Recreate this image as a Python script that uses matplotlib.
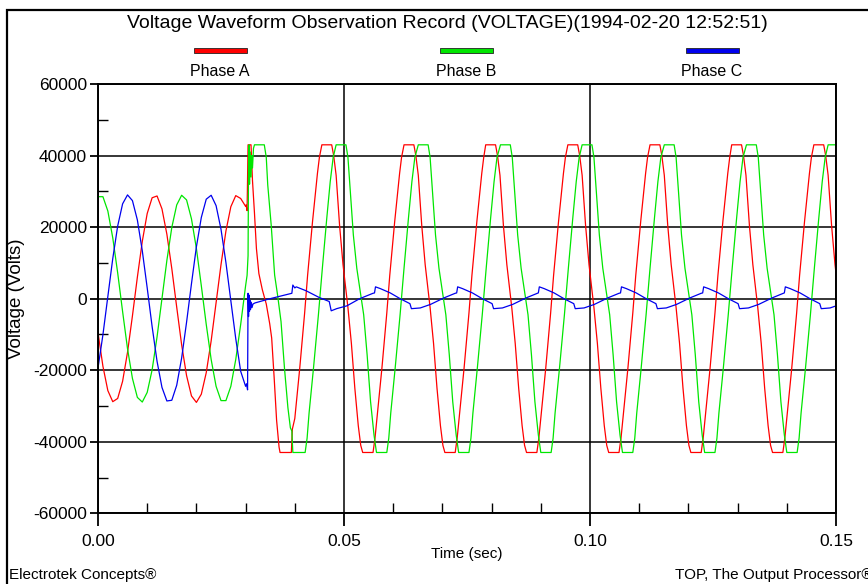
import numpy as np
import matplotlib
matplotlib.use('Agg')
import matplotlib.pyplot as plt
from matplotlib.patches import Rectangle
from matplotlib.ticker import MultipleLocator

plt.rcParams['font.family'] = ['Liberation Sans', 'DejaVu Sans']
plt.rcParams['axes.unicode_minus'] = False

# times in ms, voltages in kV

# Phase A (red)
phase_a_t = (list(range(0, 30)) +
             [30.0, 30.1, 30.3, 30.5, 31.1, 31.4, 31.8, 32.2, 32.7, 33.4, 34.2, 34.9, 35.3,
              35.8, 36.3, 36.8, 37.0, 39.3, 39.5, 40.0, 41.0, 42.0, 42.6, 43.6, 44.6, 45.0] +
             [45.5, 47.5, 47.9, 48.4, 49.1, 49.8, 50.8, 51.5, 52.2, 52.9, 53.4, 53.8, 55.9, 56.3, 56.7, 57.7, 58.7, 59.3, 60.3, 61.3, 61.7] +
             [62.2, 64.2, 64.6, 65.1, 65.8, 66.5, 67.5, 68.2, 68.9, 69.6, 70.1, 70.5, 72.6, 73.0, 73.4, 74.4, 75.4, 76.0, 77.0, 78.0, 78.4] +
             [78.8, 80.8, 81.2, 81.7, 82.4, 83.1, 84.1, 84.8, 85.5, 86.2, 86.7, 87.1, 89.2, 89.6, 90.0, 91.0, 92.0, 92.6, 93.6, 94.6, 95.0] +
             [95.5, 97.5, 97.9, 98.4, 99.1, 99.8, 100.8, 101.5, 102.2, 102.9, 103.4, 103.8, 105.9, 106.3, 106.7, 107.7, 108.7, 109.3, 110.3, 111.3, 111.7] +
             [112.2, 114.2, 114.6, 115.1, 115.8, 116.5, 117.5, 118.2, 118.9, 119.6, 120.1, 120.5, 122.6, 123.0, 123.4, 124.4, 125.4, 126.0, 127.0, 128.0, 128.4] +
             [128.8, 130.8, 131.2, 131.7, 132.4, 133.1, 134.1, 134.8, 135.5, 136.2, 136.7, 137.1, 139.2, 139.6, 140.0, 141.0, 142.0, 142.6, 143.6, 144.6, 145.0] +
             [145.5, 147.5, 147.9, 148.4, 149.1, 149.8, 150.8])
a_cycle = [43.0, 43.0, 40.0, 34.5, 20.5, 9.5, -2.5, -12.5, -25.0, -35.5, -41.0,
           -43.0, -43.0, -39.0, -33.5, -19.5, -4.0, 6.5, 21.5, 35.0, 39.5]
phase_a_v = ([-9.5, -18.9, -25.7, -28.8, -27.9, -23.1, -15.0, -4.8, 6.0, 16.0, 23.8, 28.2, 28.7, 25.1, 18.0,
              8.4, -2.4, -12.9, -21.5, -27.2, -29.0, -26.7, -20.7, -11.8, -1.2, 9.5, 18.9, 25.7, 28.8, 28.0] +
             [25.8, 26.2, 24.6, 43.0, 43.0, 33.0, 24.0, 14.0, 7.0, 2.5, -1.5, -7.0, -11.0,
              -22.0, -34.0, -41.5, -43.0, -43.0, -36.5, -33.5, -19.5, -4.0, 6.5, 21.5, 35.0, 39.5] +
             a_cycle + a_cycle + a_cycle + a_cycle + a_cycle + a_cycle +
             [43.0, 43.0, 40.0, 34.5, 20.5, 9.5, -2.5])

# Phase B (green)
phase_b_t = (list(range(0, 31)) +
             [30.3, 30.5, 30.6, 30.7, 30.8, 30.95, 31.1, 31.25, 31.4, 31.6, 31.8, 33.8, 34.2, 34.5, 35.2, 35.9,
              36.5, 37.2, 37.9, 38.6, 39.1, 39.4, 39.6, 42.1, 42.5, 42.9, 43.8, 44.8, 45.6, 46.5, 47.2, 47.8] +
             [48.4, 50.4, 50.8, 51.25, 51.9, 52.6, 53.3, 54.0, 54.7, 55.4, 56.1, 56.6, 58.7, 59.1, 59.5, 60.4, 61.4, 62.2, 63.1, 63.8, 64.4] +
             [65.1, 67.1, 67.5, 67.95, 68.6, 69.3, 70.0, 70.7, 71.4, 72.1, 72.8, 73.3, 75.4, 75.8, 76.2, 77.1, 78.1, 78.9, 79.8, 80.5, 81.1] +
             [81.8, 83.8, 84.2, 84.65, 85.3, 86.0, 86.7, 87.4, 88.1, 88.8, 89.5, 90.0, 92.1, 92.5, 92.9, 93.8, 94.8, 95.6, 96.5, 97.2, 97.8] +
             [98.4, 100.4, 100.8, 101.25, 101.9, 102.6, 103.3, 104.0, 104.7, 105.4, 106.1, 106.6, 108.7, 109.1, 109.5, 110.4, 111.4, 112.2, 113.1, 113.8, 114.4] +
             [115.1, 117.1, 117.5, 117.95, 118.6, 119.3, 120.0, 120.7, 121.4, 122.1, 122.8, 123.3, 125.4, 125.8, 126.2, 127.1, 128.1, 128.9, 129.8, 130.5, 131.1] +
             [131.8, 133.8, 134.2, 134.65, 135.3, 136.0, 136.7, 137.4, 138.1, 138.8, 139.5, 140.0, 142.1, 142.5, 142.9, 143.8, 144.8, 145.6, 146.5, 147.2, 147.8] +
             [148.4, 150.4])
b_cycle = [43.0, 43.0, 39.5, 30.8, 17.8, 8.5, 2.0, -4.5, -15.7, -28.8, -38.1,
           -43.0, -43.0, -39.0, -32.0, -19.4, -4.5, 8.5, 22.5, 32.7, 39.5]
phase_b_v = ([28.5, 28.5, 24.5, 17.0, 7.2, -3.6, -14.0, -22.3, -27.6, -28.9, -26.2, -19.9, -10.7, 0.0, 10.7,
              19.9, 26.2, 28.9, 27.6, 22.3, 14.0, 3.6, -7.2, -17.0, -24.5, -28.5, -28.5, -24.5, -17.0, -7.2, 3.6] +
             [6.5, 12.0, 38.0, 43.0, 32.0, 41.0, 34.0, 40.0, 36.5, 42.0, 43.0, 43.0, 39.5, 31.8, 20.6, 6.6,
              1.0, -6.4, -19.4, -30.5, -36.1, -37.0, -43.0, -43.0, -39.0, -32.0, -19.4, -4.5, 8.5, 22.5, 32.7, 39.5] +
             b_cycle + b_cycle + b_cycle + b_cycle + b_cycle + b_cycle +
             [43.0, 43.0])

# Phase C (blue)
phase_c_t = (list(range(0, 30)) +
             [30.0, 30.2, 30.4, 30.5, 30.6, 30.7, 30.8, 30.9, 31.0, 31.15, 31.3, 31.5, 31.9,
              35.0, 39.4, 39.6, 40.0, 40.3, 42.3, 45.0, 47.0, 47.4, 48.5, 50.6, 53.2, 55.9] +
             [56.2, 56.4, 57.4, 59.4, 61.4, 63.4, 63.7, 65.5, 67.6, 70.3, 72.6] +
             [72.9, 73.1, 74.1, 76.1, 78.1, 80.1, 80.4, 82.2, 84.3, 87.0, 89.3] +
             [89.5, 89.7, 90.7, 92.7, 94.7, 96.7, 97.0, 98.8, 100.9, 103.6, 105.9] +
             [106.2, 106.4, 107.4, 109.4, 111.4, 113.4, 113.7, 115.5, 117.6, 120.3, 122.6] +
             [122.9, 123.1, 124.1, 126.1, 128.1, 130.1, 130.4, 132.2, 134.3, 137.0, 139.3] +
             [139.5, 139.7, 140.7, 142.7, 144.7, 146.7, 147.0, 148.8, 150.9])
c_cycle = [1.6, 3.3, 2.8, 1.6, 0.0, -1.4, -2.8, -2.6, -1.6, 0.2, 1.5]
phase_c_v = ([-19.4, -10.1, 0.6, 11.2, 20.3, 26.5, 29.0, 27.4, 22.0, 13.4, 3.0, -7.8, -17.5, -24.8, -28.6,
              -28.4, -24.2, -16.6, -6.6, 4.2, 14.5, 22.7, 27.8, 28.9, 26.0, 19.4, 10.1, -0.6, -11.2, -20.3] +
             [-24.5, -23.8, -25.5, 1.5, -5.0, 1.0, -3.5, -0.5, -3.0, -1.0, -2.5, -1.5, -1.2,
              0.0, 1.5, 3.8, 3.0, 3.3, 2.2, 0.3, -0.8, -3.4, -2.8, -2.0, 0.0, 1.5] +
             c_cycle + c_cycle + c_cycle + c_cycle + c_cycle +
             [1.6, 3.3, 2.8, 1.6, 0.0, -1.4, -2.8, -2.6, -1.6])

series = [("Phase A", phase_a_t, phase_a_v, "#ff0000"),
          ("Phase B", phase_b_t, phase_b_v, "#00e600"),
          ("Phase C", phase_c_t, phase_c_v, "#0000ee")]

W, H = 868, 584
fig = plt.figure(figsize=(W / 100, H / 100), dpi=100)
ax = fig.add_axes([98 / W, 1 - 513.3 / H, (836 - 98) / W, (513.3 - 84) / H])

for name, t, v, col in series:
    ax.plot(np.array(t) / 1000.0, np.array(v) * 1000.0, color=col, lw=0.9)

ax.set_xlim(0, 0.15)
ax.set_ylim(-60000, 60000)
ax.set_xticks([0, 0.05, 0.10, 0.15])
ax.set_xticklabels(["0.00", "0.05", "0.10", "0.15"])
ax.set_yticks(range(-60000, 60001, 20000))
ax.set_yticklabels([str(v) for v in range(-60000, 60001, 20000)])
ax.xaxis.set_minor_locator(MultipleLocator(0.01))
ax.yaxis.set_minor_locator(MultipleLocator(10000))
ax.tick_params(axis='x', which='major', direction='out', length=9, width=1.3, labelsize=12.5, pad=6)
ax.tick_params(axis='y', which='major', direction='out', length=6, width=1.3, labelsize=12.5, pad=2)
ax.tick_params(which='minor', direction='in', length=7, width=1)
ax.grid(which='major', color='black', lw=1.1)
for s in ax.spines.values():
    s.set_linewidth(1.4)

# frame round the whole picture
fig.add_artist(Rectangle((7 / W, -0.1), 2, 1.1 - 10 / H, transform=fig.transFigure,
                         fill=False, ec='black', lw=1.6, clip_on=False))

fig.text(127 / W, 1 - 23 / H, "Voltage Waveform Observation Record (VOLTAGE)(1994-02-20 12:52:51)",
         ha='left', va='center', fontsize=14)

leg_x = [220, 466, 712]
for (name, t, v, col), x in zip(series, leg_x):
    fig.add_artist(Rectangle(((x - 26) / W, 1 - 52.5 / H), 53 / W, 5 / H, transform=fig.transFigure,
                             fc=col, ec='#222222', lw=0.6))
    fig.text(x / W, 1 - 72 / H, name, ha='center', va='center', fontsize=11.5)

fig.text(467 / W, 1 - 554 / H, "Time (sec)", ha='center', va='center', fontsize=11)
fig.text(17 / W, 1 - 299 / H, "Voltage (Volts)", ha='center', va='center', rotation=90, fontsize=13.5)
fig.text(9 / W, 1 - 575 / H, "Electrotek Concepts®", ha='left', va='center', fontsize=11)
fig.text(675 / W, 1 - 575 / H, "TOP, The Output Processor®", ha='left', va='center', fontsize=11)

fig.savefig("out.png", dpi=100)
